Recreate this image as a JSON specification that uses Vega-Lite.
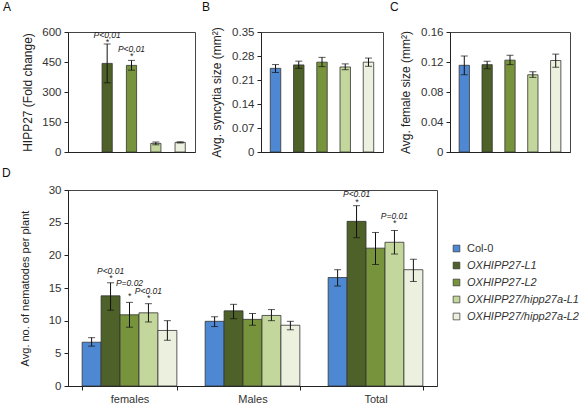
{
  "$schema": "https://vega.github.io/schema/vega-lite/v6.json",
  "background": "white",
  "padding": {"left": 1, "top": 0, "right": 0, "bottom": 0},
  "spacing": 8,
  "config": {
    "font": "Liberation Sans",
    "view": {"stroke": "#444", "strokeWidth": 1},
    "axis": {"labelFont": "Liberation Sans", "labelColor": "#333", "labelFontSize": 11.5, "labelOverlap": false, "titleFont": "Liberation Sans", "titleFontWeight": "normal", "titleColor": "#222", "titleFontSize": 12, "domainColor": "#222", "tickColor": "#222", "grid": false, "tickSize": 4, "labelPadding": 3},
    "axisY": {"labelOverlap": false, "tickCount": 10},
    "title": {"font": "Liberation Sans", "fontWeight": "normal", "fontSize": 12, "anchor": "start", "frame": "group", "color": "#111"}
  },
  "datasets": {
    "A": [
      {"group": "OXHIPP27-L1", "value": 443, "lo": 346, "hi": 540},
      {"group": "OXHIPP27-L2", "value": 433, "lo": 409, "hi": 458},
      {"group": "OXHIPP27/hipp27a-L1", "value": 43, "lo": 36, "hi": 50},
      {"group": "OXHIPP27/hipp27a-L2", "value": 48, "lo": 45, "hi": 51}
    ],
    "Aann": [
      {"group": "OXHIPP27-L1", "y": 586, "label": "P<0,01"},
      {"group": "OXHIPP27-L1", "y": 552, "label": "*"},
      {"group": "OXHIPP27-L2", "y": 515, "label": "P<0,01"},
      {"group": "OXHIPP27-L2", "y": 480, "label": "*"}
    ],
    "B": [
      {"group": "Col-0", "value": 0.244, "lo": 0.232, "hi": 0.255},
      {"group": "OXHIPP27-L1", "value": 0.254, "lo": 0.244, "hi": 0.265},
      {"group": "OXHIPP27-L2", "value": 0.262, "lo": 0.249, "hi": 0.276},
      {"group": "OXHIPP27/hipp27a-L1", "value": 0.248, "lo": 0.24, "hi": 0.257},
      {"group": "OXHIPP27/hipp27a-L2", "value": 0.262, "lo": 0.25, "hi": 0.274}
    ],
    "C": [
      {"group": "Col-0", "value": 0.1156, "lo": 0.103, "hi": 0.128},
      {"group": "OXHIPP27-L1", "value": 0.1165, "lo": 0.111, "hi": 0.121},
      {"group": "OXHIPP27-L2", "value": 0.1225, "lo": 0.1165, "hi": 0.129},
      {"group": "OXHIPP27/hipp27a-L1", "value": 0.103, "lo": 0.0995, "hi": 0.107},
      {"group": "OXHIPP27/hipp27a-L2", "value": 0.122, "lo": 0.113, "hi": 0.1305}
    ],
    "D": [
      {"cat": "females", "group": "Col-0", "value": 6.7, "lo": 6.1, "hi": 7.4},
      {"cat": "females", "group": "OXHIPP27-L1", "value": 13.8, "lo": 11.6, "hi": 15.8},
      {"cat": "females", "group": "OXHIPP27-L2", "value": 10.9, "lo": 9.0, "hi": 12.8},
      {"cat": "females", "group": "OXHIPP27/hipp27a-L1", "value": 11.2, "lo": 9.8, "hi": 12.6},
      {"cat": "females", "group": "OXHIPP27/hipp27a-L2", "value": 8.5, "lo": 7.0, "hi": 10.0},
      {"cat": "Males", "group": "Col-0", "value": 9.9, "lo": 9.1, "hi": 10.6},
      {"cat": "Males", "group": "OXHIPP27-L1", "value": 11.5, "lo": 10.3, "hi": 12.5},
      {"cat": "Males", "group": "OXHIPP27-L2", "value": 10.2, "lo": 9.3, "hi": 11.1},
      {"cat": "Males", "group": "OXHIPP27/hipp27a-L1", "value": 10.8, "lo": 10.0, "hi": 11.7},
      {"cat": "Males", "group": "OXHIPP27/hipp27a-L2", "value": 9.3, "lo": 8.6, "hi": 9.9},
      {"cat": "Total", "group": "Col-0", "value": 16.6, "lo": 15.3, "hi": 17.8},
      {"cat": "Total", "group": "OXHIPP27-L1", "value": 25.2, "lo": 22.7, "hi": 27.6},
      {"cat": "Total", "group": "OXHIPP27-L2", "value": 21.1, "lo": 18.6, "hi": 23.5},
      {"cat": "Total", "group": "OXHIPP27/hipp27a-L1", "value": 22.0, "lo": 20.2, "hi": 23.8},
      {"cat": "Total", "group": "OXHIPP27/hipp27a-L2", "value": 17.8, "lo": 16.0, "hi": 19.4}
    ],
    "Dann": [
      {"cat": "females", "group": "OXHIPP27-L1", "y": 17.6, "label": "P<0.01"},
      {"cat": "females", "group": "OXHIPP27-L1", "y": 16.5, "label": "*"},
      {"cat": "females", "group": "OXHIPP27-L2", "y": 15.7, "label": "P=0.02"},
      {"cat": "females", "group": "OXHIPP27-L2", "y": 13.8, "label": "*"},
      {"cat": "females", "group": "OXHIPP27/hipp27a-L1", "y": 14.6, "label": "P<0.01"},
      {"cat": "females", "group": "OXHIPP27/hipp27a-L1", "y": 13.4, "label": "*"},
      {"cat": "Total", "group": "OXHIPP27-L1", "y": 29.4, "label": "P<0.01"},
      {"cat": "Total", "group": "OXHIPP27-L1", "y": 28.1, "label": "*"},
      {"cat": "Total", "group": "OXHIPP27/hipp27a-L1", "y": 26.0, "label": "P=0.01"},
      {"cat": "Total", "group": "OXHIPP27/hipp27a-L1", "y": 24.9, "label": "*"}
    ]
  },
  "resolve": {"scale": {"color": "independent"}},
  "vconcat": [
    {
      "hconcat": [
        {
          "width": 127, "height": 120,
          "title": {"text": "A", "dx": -65, "offset": 12},
          "data": {"name": "A"},
          "encoding": {
            "x": {"field": "group", "type": "nominal", "sort": null, "scale": {"domain": ["Col-0", "OXHIPP27-L1", "OXHIPP27-L2", "OXHIPP27/hipp27a-L1", "OXHIPP27/hipp27a-L2"], "paddingInner": 0.58, "paddingOuter": 0.4}, "axis": {"labels": false, "ticks": false, "title": null}},
            "y": {"field": "value", "type": "quantitative", "scale": {"domain": [0, 600]}, "axis": {"values": [0, 150, 300, 450, 600], "labelOverlap": false, "title": "HIPP27 (Fold change)", "titlePadding": 7}}
          },
          "layer": [
            {"mark": {"type": "bar", "stroke": "#333", "strokeWidth": 0.8}, "encoding": {"color": {"field": "group", "type": "nominal", "scale": {"domain": ["Col-0", "OXHIPP27-L1", "OXHIPP27-L2", "OXHIPP27/hipp27a-L1", "OXHIPP27/hipp27a-L2"], "range": ["#4f88d2", "#4e6128", "#77933c", "#c3d69b", "#ebf1de"]}, "legend": null}}},
            {"mark": {"type": "rule", "color": "#111", "strokeWidth": 1}, "encoding": {"y": {"field": "lo", "type": "quantitative"}, "y2": {"field": "hi"}}},
            {"mark": {"type": "tick", "color": "#111", "thickness": 1, "size": 7}, "encoding": {"y": {"field": "lo", "type": "quantitative"}}},
            {"mark": {"type": "tick", "color": "#111", "thickness": 1, "size": 7}, "encoding": {"y": {"field": "hi", "type": "quantitative"}}},
            {"data": {"name": "Aann"}, "mark": {"type": "text", "fontSize": 8.5, "fontStyle": "italic", "color": "#222", "baseline": "middle"}, "encoding": {"y": {"field": "y", "type": "quantitative"}, "text": {"field": "label"}}}
          ]
        },
        {
          "width": 122, "height": 120,
          "title": {"text": "B", "dx": -59, "offset": 12},
          "data": {"name": "B"},
          "encoding": {
            "x": {"field": "group", "type": "nominal", "sort": null, "scale": {"domain": ["Col-0", "OXHIPP27-L1", "OXHIPP27-L2", "OXHIPP27/hipp27a-L1", "OXHIPP27/hipp27a-L2"], "paddingInner": 0.55, "paddingOuter": 0.4}, "axis": {"labels": false, "ticks": false, "title": null}},
            "y": {"field": "value", "type": "quantitative", "scale": {"domain": [0, 0.35]}, "axis": {"values": [0, 0.07, 0.14, 0.21, 0.28, 0.35], "labelOverlap": false, "format": ".2~f", "title": "Avg. syncytia size (mm²)", "titlePadding": 8}}
          },
          "layer": [
            {"mark": {"type": "bar", "stroke": "#333", "strokeWidth": 0.8}, "encoding": {"color": {"field": "group", "type": "nominal", "scale": {"domain": ["Col-0", "OXHIPP27-L1", "OXHIPP27-L2", "OXHIPP27/hipp27a-L1", "OXHIPP27/hipp27a-L2"], "range": ["#4f88d2", "#4e6128", "#77933c", "#c3d69b", "#ebf1de"]}, "legend": null}}},
            {"mark": {"type": "rule", "color": "#111", "strokeWidth": 1}, "encoding": {"y": {"field": "lo", "type": "quantitative"}, "y2": {"field": "hi"}}},
            {"mark": {"type": "tick", "color": "#111", "thickness": 1, "size": 7}, "encoding": {"y": {"field": "lo", "type": "quantitative"}}},
            {"mark": {"type": "tick", "color": "#111", "thickness": 1, "size": 7}, "encoding": {"y": {"field": "hi", "type": "quantitative"}}}
          ]
        },
        {
          "width": 120, "height": 120,
          "title": {"text": "C", "dx": -60, "offset": 12},
          "data": {"name": "C"},
          "encoding": {
            "x": {"field": "group", "type": "nominal", "sort": null, "scale": {"domain": ["Col-0", "OXHIPP27-L1", "OXHIPP27-L2", "OXHIPP27/hipp27a-L1", "OXHIPP27/hipp27a-L2"], "paddingInner": 0.55, "paddingOuter": 0.4}, "axis": {"labels": false, "ticks": false, "title": null}},
            "y": {"field": "value", "type": "quantitative", "scale": {"domain": [0, 0.16]}, "axis": {"values": [0, 0.04, 0.08, 0.12, 0.16], "labelOverlap": false, "format": ".2~f", "title": "Avg. female size (mm²)", "titlePadding": 8}}
          },
          "layer": [
            {"mark": {"type": "bar", "stroke": "#333", "strokeWidth": 0.8}, "encoding": {"color": {"field": "group", "type": "nominal", "scale": {"domain": ["Col-0", "OXHIPP27-L1", "OXHIPP27-L2", "OXHIPP27/hipp27a-L1", "OXHIPP27/hipp27a-L2"], "range": ["#4f88d2", "#4e6128", "#77933c", "#c3d69b", "#ebf1de"]}, "legend": null}}},
            {"mark": {"type": "rule", "color": "#111", "strokeWidth": 1}, "encoding": {"y": {"field": "lo", "type": "quantitative"}, "y2": {"field": "hi"}}},
            {"mark": {"type": "tick", "color": "#111", "thickness": 1, "size": 7}, "encoding": {"y": {"field": "lo", "type": "quantitative"}}},
            {"mark": {"type": "tick", "color": "#111", "thickness": 1, "size": 7}, "encoding": {"y": {"field": "hi", "type": "quantitative"}}}
          ]
        }
      ],
      "spacing": 5
    },
    {
      "width": 369, "height": 196,
      "title": {"text": "D", "dx": -66, "offset": 4},
      "data": {"name": "D"},
      "encoding": {
        "x": {"field": "cat", "type": "nominal", "sort": null, "scale": {"domain": ["females", "Males", "Total"], "paddingInner": 0.23, "paddingOuter": 0.115}, "axis": {"title": null, "labelAngle": 0, "tickBand": "extent", "labelFontSize": 11, "labelPadding": 3, "ticks": true, "tickSize": 4}},
        "xOffset": {"field": "group", "type": "nominal", "sort": null, "scale": {"domain": ["Col-0", "OXHIPP27-L1", "OXHIPP27-L2", "OXHIPP27/hipp27a-L1", "OXHIPP27/hipp27a-L2"], "paddingInner": 0, "paddingOuter": 0}},
        "y": {"field": "value", "type": "quantitative", "scale": {"domain": [0, 30]}, "axis": {"values": [0, 5, 10, 15, 20, 25, 30], "labelOverlap": false, "title": "Avg. no. of nematodes per plant", "titleFontSize": 11, "titlePadding": 17.5}}
      },
      "layer": [
        {"mark": {"type": "bar", "stroke": "#333", "strokeWidth": 0.8}, "encoding": {
          "color": {"field": "group", "type": "nominal", "scale": {"domain": ["Col-0", "OXHIPP27-L1", "OXHIPP27-L2", "OXHIPP27/hipp27a-L1", "OXHIPP27/hipp27a-L2"], "range": ["#4f88d2", "#4e6128", "#77933c", "#c3d69b", "#ebf1de"]},
            "legend": {"title": null, "orient": "none", "legendX": 383, "legendY": 53, "symbolType": "square", "symbolSize": 45, "symbolStrokeColor": "#333", "symbolStrokeWidth": 0.7, "labelFont": "Liberation Sans", "labelFontSize": 11, "labelColor": "#333", "labelOffset": 5, "rowPadding": 5, "labelLimit": 200,
              "encode": {"labels": {"update": {"fontStyle": {"signal": "datum.value === 'Col-0' ? 'normal' : 'italic'"}}}}}}
        }},
        {"mark": {"type": "rule", "color": "#111", "strokeWidth": 1}, "encoding": {"y": {"field": "lo", "type": "quantitative"}, "y2": {"field": "hi"}}},
        {"mark": {"type": "tick", "color": "#111", "thickness": 1, "size": 7}, "encoding": {"y": {"field": "lo", "type": "quantitative"}}},
        {"mark": {"type": "tick", "color": "#111", "thickness": 1, "size": 7}, "encoding": {"y": {"field": "hi", "type": "quantitative"}}},
        {"data": {"name": "Dann"}, "mark": {"type": "text", "fontSize": 8.5, "fontStyle": "italic", "color": "#222", "baseline": "middle"}, "encoding": {"y": {"field": "y", "type": "quantitative"}, "text": {"field": "label"}}}
      ]
    }
  ]
}
